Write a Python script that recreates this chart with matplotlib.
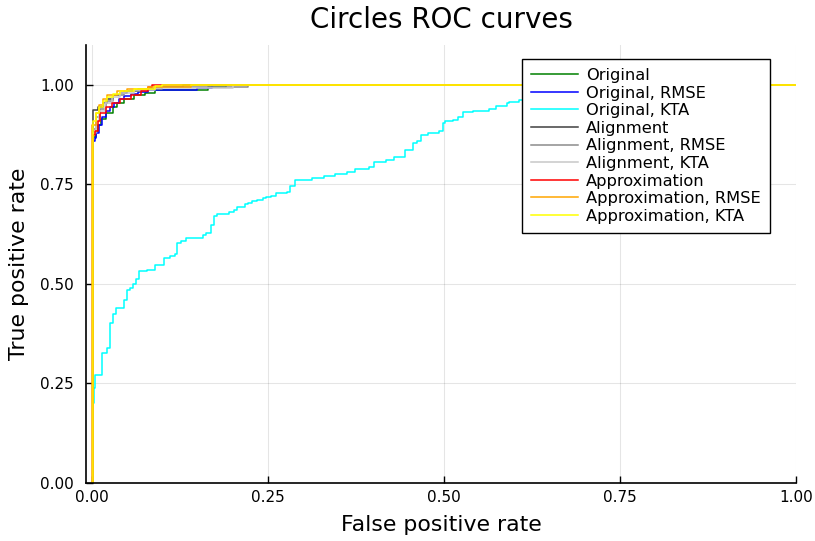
import matplotlib
matplotlib.use("Agg")
import matplotlib.pyplot as plt

plt.rcParams['font.family'] = ['DejaVu Sans']

# ROC curves: each list holds (fpr, tpr) corner points, rise happens at the listed fpr
labels = ["Original", "Original, RMSE", "Original, KTA",
          "Alignment", "Alignment, RMSE", "Alignment, KTA",
          "Approximation", "Approximation, RMSE", "Approximation, KTA"]
colors = ["#008000", "#0000ff", "#00ffff",
          "#404040", "#8c8c8c", "#c8c8c8",
          "#ff0000", "#ffa500", "#ffff00"]

fpr_original = [0, 0.001, 0.006, 0.009, 0.013, 0.020, 0.030, 0.036, 0.045, 0.060, 0.075, 0.090, 0.165, 0.190, 1.0]
tpr_original = [0, 0.870, 0.885, 0.900, 0.915, 0.930, 0.945, 0.955, 0.965, 0.975, 0.980, 0.988, 0.995, 1.000, 1.0]

fpr_original_rmse = [0, 0.001, 0.004, 0.006, 0.010, 0.014, 0.020, 0.025, 0.032, 0.038, 0.045, 0.055, 0.065, 0.080, 0.149, 0.170, 1.0]
tpr_original_rmse = [0, 0.860, 0.866, 0.880, 0.900, 0.920, 0.935, 0.945, 0.955, 0.965, 0.972, 0.978, 0.982, 0.986, 0.993, 1.000, 1.0]

fpr_original_kta = [0, 0.001, 0.003, 0.004, 0.014, 0.022, 0.026, 0.030, 0.034, 0.046, 0.050, 0.054, 0.058,
                    0.062, 0.067, 0.078, 0.089, 0.102, 0.111, 0.118, 0.121, 0.126, 0.134, 0.158,
                    0.162, 0.169, 0.173, 0.178, 0.194, 0.202, 0.206, 0.218, 0.222, 0.227, 0.234,
                    0.243, 0.247, 0.254, 0.261, 0.277, 0.281, 0.289, 0.295, 0.313, 0.329, 0.345,
                    0.362, 0.374, 0.393, 0.401, 0.418, 0.429, 0.445, 0.456, 0.461, 0.468, 0.478,
                    0.493, 0.498, 0.501, 0.513, 0.520, 0.527, 0.541, 0.564, 0.574, 0.589, 0.593,
                    0.607, 0.660, 0.750, 1.0]
tpr_original_kta = [0, 0.200, 0.239, 0.271, 0.327, 0.340, 0.403, 0.424, 0.440, 0.460, 0.485, 0.490, 0.500,
                    0.512, 0.532, 0.536, 0.548, 0.565, 0.570, 0.575, 0.603, 0.609, 0.616, 0.623,
                    0.628, 0.648, 0.671, 0.676, 0.680, 0.686, 0.693, 0.701, 0.704, 0.708, 0.711,
                    0.715, 0.719, 0.721, 0.728, 0.732, 0.745, 0.760, 0.761, 0.767, 0.772, 0.776,
                    0.781, 0.788, 0.793, 0.805, 0.812, 0.820, 0.837, 0.855, 0.859, 0.874, 0.879,
                    0.885, 0.905, 0.908, 0.912, 0.919, 0.931, 0.935, 0.940, 0.948, 0.954, 0.956,
                    0.962, 0.980, 1.000, 1.0]

fpr_alignment = [0, 0.001, 0.008, 0.015, 0.022, 0.030, 0.040, 0.050, 0.065, 0.090, 0.130, 1.0]
tpr_alignment = [0, 0.937, 0.945, 0.955, 0.965, 0.975, 0.980, 0.985, 0.990, 0.995, 1.000, 1.0]

fpr_alignment_rmse = [0, 0.001, 0.006, 0.012, 0.020, 0.030, 0.045, 0.070, 0.100, 0.222, 1.0]
tpr_alignment_rmse = [0, 0.890, 0.920, 0.940, 0.960, 0.975, 0.985, 0.990, 0.995, 1.000, 1.0]

fpr_alignment_kta = [0, 0.001, 0.006, 0.010, 0.018, 0.028, 0.040, 0.060, 0.090, 0.200, 1.0]
tpr_alignment_kta = [0, 0.880, 0.910, 0.935, 0.955, 0.970, 0.980, 0.988, 0.993, 1.000, 1.0]

fpr_approx = [0, 0.001, 0.004, 0.008, 0.012, 0.020, 0.028, 0.040, 0.055, 0.070, 0.080, 0.085, 1.0]
tpr_approx = [0, 0.875, 0.885, 0.910, 0.930, 0.945, 0.955, 0.965, 0.975, 0.985, 0.995, 1.000, 1.0]

fpr_approx_rmse = [0, 0.0003, 0.006, 0.010, 0.016, 0.022, 0.035, 0.050, 0.080, 0.140, 1.0]
tpr_approx_rmse = [0, 0.900, 0.930, 0.950, 0.965, 0.975, 0.985, 0.990, 0.995, 1.000, 1.0]

fpr_approx_kta = [0, 0.002, 0.006, 0.010, 0.015, 0.022, 0.030, 0.040, 0.060, 0.090, 0.100, 1.0]
tpr_approx_kta = [0, 0.910, 0.930, 0.945, 0.960, 0.970, 0.978, 0.985, 0.990, 0.997, 1.000, 1.0]

curves = [
    (fpr_original, tpr_original),
    (fpr_original_rmse, tpr_original_rmse),
    (fpr_original_kta, tpr_original_kta),
    (fpr_alignment, tpr_alignment),
    (fpr_alignment_rmse, tpr_alignment_rmse),
    (fpr_alignment_kta, tpr_alignment_kta),
    (fpr_approx, tpr_approx),
    (fpr_approx_rmse, tpr_approx_rmse),
    (fpr_approx_kta, tpr_approx_kta),
]

fig = plt.figure(figsize=(8.15, 5.41), dpi=100)
ax = fig.add_axes([0.1055, 0.1072, 0.8712, 0.8096])

for (fpr, tpr), label, color in zip(curves, labels, colors):
    ax.plot(fpr, tpr, drawstyle="steps-post", color=color, lw=1.1, label=label)

ax.set_xlim(-0.0085, 1.0)
ax.set_ylim(0, 1.1)
ax.set_xticks([0, 0.25, 0.5, 0.75, 1.0])
ax.set_yticks([0, 0.25, 0.5, 0.75, 1.0])
ax.set_xticklabels(["0.00", "0.25", "0.50", "0.75", "1.00"])
ax.set_yticklabels(["0.00", "0.25", "0.50", "0.75", "1.00"])
ax.grid(True, color="#000000", alpha=0.1, lw=0.8)
ax.set_axisbelow(True)
ax.tick_params(axis="y", pad=8.6)
ax.tick_params(axis="x", pad=5)
ax.tick_params(direction="in", length=5, width=1, labelsize=11, colors="#000000")

for side in ["top", "right"]:
    ax.spines[side].set_visible(False)
for side in ["left", "bottom"]:
    ax.spines[side].set_linewidth(1.2)

ax.set_title("Circles ROC curves", fontsize=20, pad=12)
ax.set_xlabel("False positive rate", fontsize=15.8, labelpad=7)
ax.set_ylabel("True positive rate", fontsize=15.8, labelpad=8)

leg = ax.legend(loc="upper left", bbox_to_anchor=(0.614, 0.968), fontsize=11.7,
                frameon=True, fancybox=False, framealpha=1.0, edgecolor="#000000",
                handlelength=2.9, handletextpad=0.5, labelspacing=0.16,
                borderpad=0.55, borderaxespad=0)
leg.get_frame().set_linewidth(1.0)

fig.savefig("out.png", dpi=100)
